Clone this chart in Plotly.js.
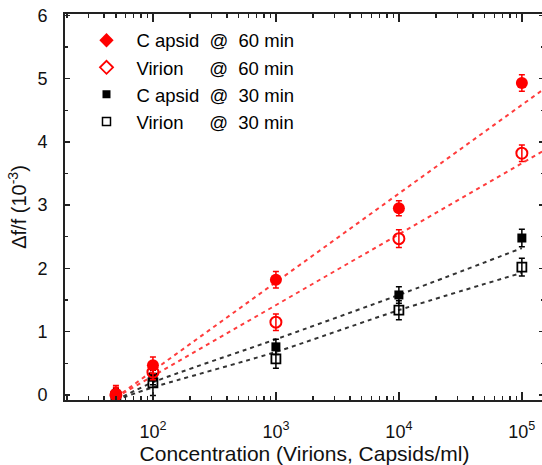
<!DOCTYPE html>
<html>
<head>
<meta charset="utf-8">
<script src="https://cdn.plot.ly/plotly-3.0.1.min.js"></script>
<style>
html,body{margin:0;padding:0;overflow:hidden;background:#fff;width:542px;height:465px;}
#chart{width:546px;height:465px;}
</style>
</head>
<body>
<div id="chart"></div>
<script>
// Concentration (virions or capsids / ml)
const conc = [50, 100, 1000, 10000, 100000];

// Δf/f (10^-3) measured values
const capsid60 = [0.02, 0.47, 1.82, 2.95, 4.93];
const virion60 = [0.00, 0.36, 1.15, 2.47, 3.82];
const capsid30 = [0.00, 0.28, 0.76, 1.58, 2.48];
const virion30 = [-0.02, 0.19, 0.57, 1.34, 2.02];

// error bars
const capsid60Err = [0.13, 0.13, 0.13, 0.12, 0.13];
const virion60Err = [0.12, 0.12, 0.13, 0.14, 0.13];
const capsid30Err = [0.10, 0.12, 0.12, 0.13, 0.14];
const virion30Err = [0.10, 0.20, 0.15, 0.15, 0.14];

// fitted (dotted) lines
const fitRedX = [50, 150000];
const capsid60Fit = [-0.04, 4.83];
const virion60Fit = [-0.04, 3.86];
const capsid30Fit = [-0.08, 0.20, 0.88, 1.58, 2.32];
const virion30Fit = [-0.08, 0.12, 0.68, 1.34, 1.93];

// legend labels
const NB = '\u00a0';
const labels = [
  'C apsid' + NB + NB + '@' + NB + NB + '60 min',
  'Virion' + NB + NB + NB + NB + NB + '@' + NB + NB + '60 min',
  'C apsid' + NB + NB + '@' + NB + NB + '30 min',
  'Virion' + NB + NB + NB + NB + NB + '@' + NB + NB + '30 min'
];

const RED = '#ff0000';
const RED_LINE = '#ff3c3c';
const BLK = '#000000';
const BLK_LINE = '#333333';
const dash = '4px,4px';

const traces = [
  // fit lines
  {x: fitRedX, y: capsid60Fit, mode: 'lines', line: {color: RED_LINE, width: 2, dash: dash}, showlegend: false, hoverinfo: 'skip'},
  {x: fitRedX, y: virion60Fit, mode: 'lines', line: {color: RED_LINE, width: 2, dash: dash}, showlegend: false, hoverinfo: 'skip'},
  {x: conc, y: capsid30Fit, mode: 'lines', line: {color: BLK_LINE, width: 2, dash: dash, shape: 'spline', smoothing: 0.6}, showlegend: false, hoverinfo: 'skip'},
  {x: conc, y: virion30Fit, mode: 'lines', line: {color: BLK_LINE, width: 2, dash: dash, shape: 'spline', smoothing: 0.6}, showlegend: false, hoverinfo: 'skip'},
  // data
  {x: conc, y: virion30, mode: 'markers', showlegend: false,
   marker: {symbol: 'square-open', size: 9, color: BLK, line: {width: 1.8, color: BLK}},
   error_y: {type: 'data', array: virion30Err, color: BLK, thickness: 1.5, width: 3}},
  {x: conc, y: capsid30, mode: 'markers', showlegend: false,
   marker: {symbol: 'square', size: 9, color: BLK},
   error_y: {type: 'data', array: capsid30Err, color: BLK, thickness: 1.5, width: 3}},
  {x: conc, y: virion60, mode: 'markers', showlegend: false,
   marker: {symbol: 'circle-open', size: 11, color: RED, line: {width: 2, color: RED}},
   error_y: {type: 'data', array: virion60Err, color: RED, thickness: 1.5, width: 3}},
  {x: conc, y: capsid60, mode: 'markers', showlegend: false,
   marker: {symbol: 'circle', size: 12, color: RED},
   error_y: {type: 'data', array: capsid60Err, color: RED, thickness: 1.5, width: 3}},
  // legend entries
  {x: [null], y: [null], mode: 'markers', name: labels[0], marker: {symbol: 'diamond', size: 11, color: RED}},
  {x: [null], y: [null], mode: 'markers', name: labels[1], marker: {symbol: 'diamond-open', size: 10, color: RED, line: {width: 1.8, color: RED}}},
  {x: [null], y: [null], mode: 'markers', name: labels[2], marker: {symbol: 'square', size: 8, color: BLK}},
  {x: [null], y: [null], mode: 'markers', name: labels[3], marker: {symbol: 'square-open', size: 8, color: BLK, line: {width: 1.5, color: BLK}}}
];

const layout = {
  width: 546, height: 465,
  margin: {l: 65, r: 2, t: 14, b: 65},
  paper_bgcolor: '#fff', plot_bgcolor: '#fff',
  font: {family: 'Liberation Sans, Arial, sans-serif', color: '#111', size: 17},
  showlegend: true,
  legend: {x: 0.024, y: 0.98, xanchor: 'left', yanchor: 'top', bgcolor: 'rgba(0,0,0,0)',
           font: {size: 18.5, color: '#000'}, itemwidth: 50, tracegroupgap: 0},
  xaxis: {
    type: 'log', range: [1.285, 5.18],
    tickvals: [100, 1000, 10000, 100000],
    ticktext: ['10<sup>2</sup>', '10<sup>3</sup>', '10<sup>4</sup>', '10<sup>5</sup>'],
    ticks: 'inside', ticklen: 8, tickwidth: 1.5, tickcolor: '#222',
    minor: {tickvals: [20,30,40,50,60,70,80,90,200,300,400,500,600,700,800,900,2000,3000,4000,5000,6000,7000,8000,9000,20000,30000,40000,50000,60000,70000,80000,90000,200000], ticks: 'inside', ticklen: 4, tickwidth: 1.2, tickcolor: '#222', showgrid: false},
    ticklabelstandoff: 14,
    showline: true, linecolor: '#222', linewidth: 2, mirror: 'ticks',
    showgrid: false, zeroline: false,
    tickfont: {size: 18, color: '#111'},
    title: {text: 'Concentration (Virions, Capsids/ml)', font: {size: 21, color: '#111'}, standoff: 7}
  },
  yaxis: {
    range: [-0.08, 6.02],
    tickvals: [0, 1, 2, 3, 4, 5, 6],
    ticks: 'inside', ticklen: 5, tickwidth: 1.5, tickcolor: '#222',
    minor: {dtick: 0.5, ticks: 'inside', ticklen: 3, tickwidth: 1.2, tickcolor: '#222', showgrid: false},
    ticklabelstandoff: 12,
    showline: true, linecolor: '#222', linewidth: 2, mirror: 'ticks',
    showgrid: false, zeroline: false,
    tickfont: {size: 18, color: '#111'},
    title: {text: '\u0394f/f (10<sup>-3</sup>)', font: {size: 20, color: '#111'}, standoff: 5}
  }
};

Plotly.newPlot('chart', traces, layout, {displayModeBar: false, staticPlot: true});
</script>
</body>
</html>
